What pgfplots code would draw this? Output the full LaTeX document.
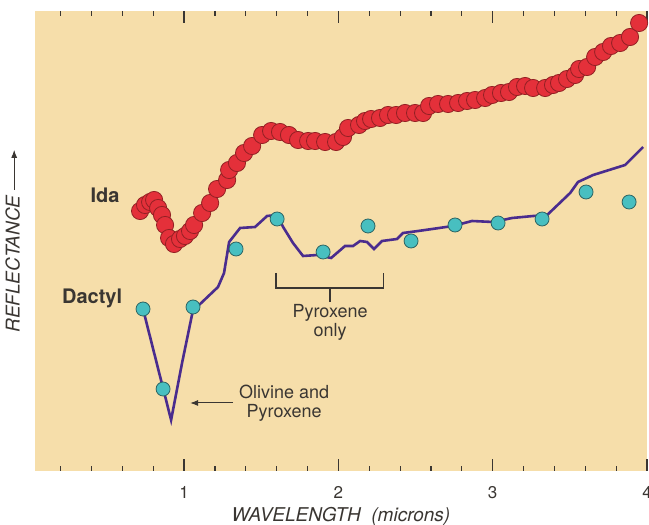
\documentclass[border=0pt]{standalone}
\usepackage{pgfplots}
\pgfplotsset{compat=1.18}
\usepackage{fontspec}
\setmainfont{TeX Gyre Heros}
\usetikzlibrary{arrows.meta, calc}
\definecolor{bgTan}{HTML}{F6DEAA}
\definecolor{idaRed}{HTML}{E4303A}
\definecolor{idaEdge}{HTML}{932024}
\definecolor{dacTeal}{HTML}{48BFC0}
\definecolor{dacEdge}{HTML}{2C6463}
\definecolor{dacLine}{HTML}{4A2C8E}
\definecolor{inkGray}{HTML}{3A3632}

% Ida: wavelength (microns), reflectance (arbitrary units)
\pgfplotstableread{
w y
0.715 260
0.747 266
0.780 269
0.806 271
0.832 263
0.857 256
0.877 246
0.903 233
0.935 227
0.974 232
1.006 235
1.039 240
1.065 246
1.117 258
1.169 268
1.214 282
1.279 291
1.292 301
1.343 308
1.389 318
1.441 325
1.506 336
1.564 340
1.622 339
1.680 336
1.739 331
1.804 330
1.849 330
1.914 329
1.985 329
2.030 334
2.063 343
2.134 346
2.173 350
2.212 352
2.270 353
2.322 356
2.374 356
2.432 358
2.497 358
2.549 358
2.588 365
2.646 367
2.711 367
2.776 368
2.834 370
2.886 371
2.951 373
2.996 376
3.054 378
3.106 379
3.158 384
3.210 385
3.262 383
3.340 383
3.391 386
3.430 388
3.482 392
3.534 396
3.560 402
3.612 404
3.664 414
3.716 419
3.767 425
3.826 428
3.890 434
3.949 448
}\idadata

% Dactyl spectrum (line)
\pgfplotstableread{
w y
0.734 162
0.916 51
0.987 108
1.058 161
1.104 167
1.220 184
1.259 198
1.292 229
1.363 243
1.460 244
1.538 255
1.603 256
1.642 244
1.706 228
1.771 215
1.862 216
1.953 213
2.043 225
2.095 225
2.141 230
2.186 229
2.231 222
2.283 230
2.380 232
2.419 238
2.517 240
2.743 245
2.866 250
3.003 249
3.126 253
3.262 255
3.353 256
3.502 278
3.553 289
3.651 296
3.858 306
3.975 324
}\dactylline

% Dactyl points
\pgfplotstableread{
w y
0.734 162
0.864 82
1.058 164
1.337 222
1.603 252
1.901 219
2.192 245
2.471 230
2.756 246
3.035 248
3.320 252
3.605 279
3.884 269
}\dactylpts

\begin{document}
\begin{tikzpicture}
\begin{axis}[
  name=ax,
  scale only axis,
  width=306pt, height=230pt,
  xmin=0.034, xmax=4.0,
  ymin=0, ymax=460,
  axis background/.style={fill=bgTan},
  axis line style={draw=none},
  xtick={1,2,3,4},
  minor xtick={0.2,0.4,0.6,0.8,1.2,1.4,1.6,1.8,2.2,2.4,2.6,2.8,3.2,3.4,3.6,3.8},
  ytick=\empty,
  xtick pos=both,
  tick align=inside,
  major tick length=6pt,
  minor tick length=2.5pt,
  every tick/.style={inkGray, line width=0.6pt},
  xticklabel pos=lower,
  /pgf/number format/assume math mode=true,
  xticklabel style={font=\fontsize{8.5}{10}\selectfont, text=inkGray, yshift=-4pt},
  xlabel={\itshape WAVELENGTH\ \ (microns)},
  xlabel style={font=\fontsize{9.5}{10}\selectfont, text=inkGray, yshift=2.5pt},
  ylabel={\itshape REFLECTANCE \tikz[baseline=-2.7pt]\draw[-{Latex[length=4pt,width=3pt]}, line width=0.5pt] (0,0)--(20pt,0);},
  ylabel style={font=\fontsize{9.5}{10}\selectfont, text=inkGray, yshift=4pt},
  clip=false,
]
\addplot[only marks, mark=*, mark size=4.3pt,
  mark options={fill=idaRed, draw=idaEdge, line width=0.4pt}]
  table[x=w, y=y] {\idadata};
\addplot[dacLine, line width=1.3pt, mark=none] table[x=w, y=y] {\dactylline};
\addplot[only marks, mark=*, mark size=3.5pt,
  mark options={fill=dacTeal, draw=dacEdge, line width=0.4pt}]
  table[x=w, y=y] {\dactylpts};

\node[font=\bfseries\fontsize{10}{11}\selectfont, text=inkGray] at (axis cs:0.488,276) {Ida};
\node[font=\bfseries\fontsize{10}{11}\selectfont, text=inkGray] at (axis cs:0.404,173) {Dactyl};
\node[font=\fontsize{9}{9.5}\selectfont, text=inkGray, align=center] at (axis cs:1.648,68) {Olivine and\\Pyroxene};
\draw[inkGray, line width=0.5pt, -{Latex[length=4pt,width=3pt]}] (axis cs:1.318,68) -- (axis cs:1.039,68);
\node[font=\fontsize{9}{9.5}\selectfont, text=inkGray, align=center] at (axis cs:1.946,149) {Pyroxene\\only};
\draw[inkGray, line width=0.6pt] (axis cs:1.596,198) -- (axis cs:1.596,183) -- (axis cs:2.290,183) -- (axis cs:2.290,198);
\draw[inkGray, line width=0.6pt] (axis cs:1.946,183) -- (axis cs:1.946,169);
\end{axis}
\pgfresetboundingbox
\path ($(ax.south west)+(-17.5pt,-27pt)$) rectangle ($(ax.north east)+(1pt,5.5pt)$);
\end{tikzpicture}
\end{document}
